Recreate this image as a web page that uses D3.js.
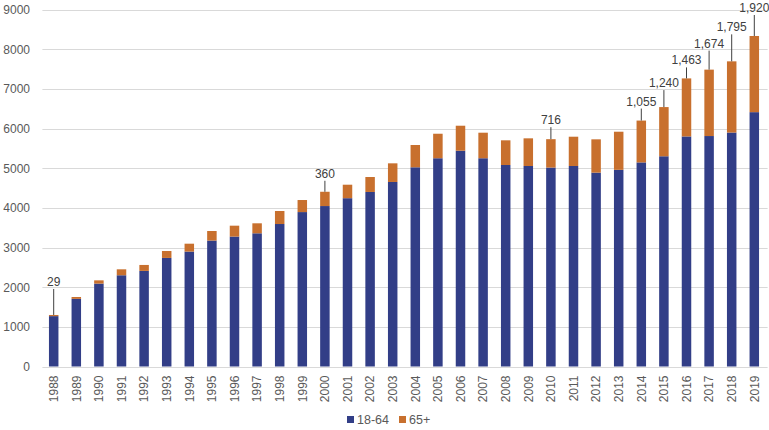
<!DOCTYPE html>
<html>
<head>
<meta charset="utf-8">
<script src="https://cdn.jsdelivr.net/npm/d3@7"></script>
<style>
  html, body { margin: 0; padding: 0; background: #fff; }
  svg { display: block; font-family: "Liberation Sans", "DejaVu Sans", sans-serif; }
</style>
</head>
<body>
<svg id="chart" width="769" height="430"></svg>
<script>
// ---- data ----
const years = [1988,1989,1990,1991,1992,1993,1994,1995,1996,1997,1998,1999,2000,2001,2002,2003,
               2004,2005,2006,2007,2008,2009,2010,2011,2012,2013,2014,2015,2016,2017,2018,2019];
const age18to64 = [1270,1705,2090,2300,2410,2737,2897,3175,3275,3358,3592,3893,4045,4243,4400,4652,
                   5022,5250,5440,5250,5080,5055,5015,5055,4887,4958,5145,5300,5800,5810,5898,6412];
const age65plus = [29,47,82,150,150,175,199,241,275,252,328,304,360,340,377,470,
                   562,618,630,644,622,697,716,738,840,961,1055,1240,1463,1674,1795,1920];
const labelledYears = [1988,2000,2010,2014,2015,2016,2017,2018,2019];
const yTicks = [0,1000,2000,3000,4000,5000,6000,7000,8000,9000];
const seriesNames = ["18-64","65+"];

// ---- layout / style ----
const colors = ["#323E87", "#C8702E"];
const labelLift = [26,11,12,12,17,11,19,27,21]; // leader line length per labelled bar (px)
const W = 769, H = 430;
const plot = { left: 42.4, right: 765.6, top: 9.5, bottom: 366.5 };

const svg = d3.select("#chart");

const x = d3.scaleBand().domain(years).range([plot.left, plot.right]).paddingInner(0.58).paddingOuter(0.29);
const y = d3.scaleLinear().domain([0, 9000]).range([plot.bottom, plot.top]);

// gridlines
svg.append("g").selectAll("line").data(yTicks).join("line")
  .attr("x1", plot.left).attr("x2", plot.right + 2)
  .attr("y1", d => Math.round(y(d)) + 0.5).attr("y2", d => Math.round(y(d)) + 0.5)
  .attr("stroke", "#d9d9d9").attr("stroke-width", 1);

// y axis labels
const yAxis = d3.axisLeft(y).tickValues(yTicks).tickSize(0).tickPadding(0).tickFormat(d3.format("d"));
const yg = svg.append("g").attr("transform", `translate(30,0)`).call(yAxis);
yg.select(".domain").remove();
yg.selectAll("text").attr("fill", "#595959").style("font-size", "12px");

// x axis labels
const xAxis = d3.axisBottom(x).tickSize(0).tickPadding(0);
const xg = svg.append("g").attr("transform", `translate(0,${plot.bottom})`).call(xAxis);
xg.select(".domain").remove();
xg.selectAll("text")
  .attr("fill", "#595959").style("font-size", "12px")
  .attr("transform", "rotate(-90)")
  .attr("text-anchor", "end")
  .attr("dy", "0.35em")
  .attr("x", -9).attr("y", 0);

// stacked bars
const table = years.map((yr, i) => ({ year: yr, a: age18to64[i], b: age65plus[i] }));
const stack = d3.stack().keys(["a", "b"])(table);
svg.append("g").selectAll("g").data(stack).join("g")
  .attr("fill", (d, i) => colors[i])
  .selectAll("rect").data(d => d).join("rect")
  .attr("x", d => x(d.data.year))
  .attr("width", x.bandwidth())
  .attr("y", d => y(d[1]))
  .attr("height", d => y(d[0]) - y(d[1]));

// annotations
const fmt = d3.format(",");
const ann = svg.append("g");
labelledYears.forEach((yr, k) => {
  const i = years.indexOf(yr);
  const top = y(age18to64[i] + age65plus[i]);
  const cx = x(yr) + x.bandwidth() / 2;
  const lineTop = top - labelLift[k];
  ann.append("line")
    .attr("x1", cx).attr("x2", cx)
    .attr("y1", lineTop).attr("y2", top)
    .attr("stroke", "#404040").attr("stroke-width", 1);
  ann.append("text")
    .attr("x", cx).attr("y", lineTop - 3)
    .attr("text-anchor", "middle")
    .attr("fill", "#404040").style("font-size", "12px")
    .text(fmt(age65plus[i]));
});

// legend
const legend = svg.append("g").attr("transform", "translate(347,416)");
const legX = [0, 52];
seriesNames.forEach((name, i) => {
  const g = legend.append("g").attr("transform", `translate(${legX[i]},0)`);
  g.append("rect").attr("width", 7).attr("height", 7).attr("fill", colors[i]);
  g.append("text").attr("x", 10).attr("y", 7.5)
    .attr("fill", "#595959").style("font-size", "12.5px").text(name);
});
</script>
</body>
</html>
